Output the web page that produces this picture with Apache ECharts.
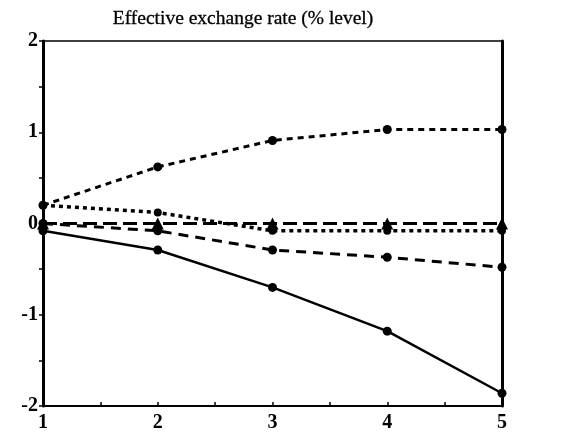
<!DOCTYPE html>
<html>
<head>
<meta charset="utf-8">
<script src="https://cdn.jsdelivr.net/npm/echarts@6/dist/echarts.min.js"></script>
<style>
  html, body { margin: 0; padding: 0; background: #fff; }
  #chart { width: 582px; height: 437px; }
</style>
</head>
<body>
<div id="chart"></div>
<script>
// Horizon (years)
const periods = [1, 2, 3, 4, 5];

// Effective exchange rate responses, % level
const solidSeries   = [-0.08, -0.29, -0.70, -1.18, -1.86];
const shortDashed   = [0.20, 0.62, 0.91, 1.03, 1.03];
const mediumDashed  = [0.00, -0.08, -0.29, -0.37, -0.48];
const squareDotted  = [0.20, 0.12, -0.08, -0.08, -0.08];
const longDashed    = [0.00, 0.00, 0.00, 0.00, 0.00];

const yTicks = [-2, -1, 0, 1, 2];
const xTicks = [1, 2, 3, 4, 5];

const pairs = vals => periods.map((p, i) => [p, vals[i]]);

const chart = echarts.init(document.getElementById('chart'), null, { renderer: 'canvas' });

const serif = '"Liberation Serif", "DejaVu Serif", serif';

function line(name, vals, type, width, symbol, size, z) {
  return {
    name, type: 'line', data: pairs(vals), z: z || 2,
    symbol, symbolSize: size, showSymbol: true,
    itemStyle: { color: '#000' },
    lineStyle: { color: '#000', width, type },
    animation: false
  };
}

chart.setOption({
  backgroundColor: '#fff',
  title: {
    text: 'Effective exchange rate (% level)',
    left: 238, top: 4, textAlign: 'center',
    textStyle: { fontFamily: serif, fontSize: 19.5, fontWeight: 'normal', color: '#000',
                 textBorderColor: '#000', textBorderWidth: 0.3 }
  },
  grid: { left: 43, right: 80, top: 41, bottom: 31, containLabel: false },
  xAxis: [{
    type: 'value', min: 1, max: 5, interval: 0.5,
    axisLine: { show: true, onZero: false, lineStyle: { color: '#000', width: 2 } },
    axisTick: { inside: true, length: 4, lineStyle: { color: '#000', width: 1.5 } },
    splitLine: { show: false },
    axisLabel: {
      margin: 7, color: '#000', fontFamily: serif, fontSize: 20, fontWeight: 'bold',
      formatter: v => (xTicks.indexOf(v) >= 0 ? String(v) : '')
    }
  }, {
    type: 'value', min: 1, max: 5, position: 'top',
    axisLine: { show: true, onZero: false, lineStyle: { color: '#000', width: 1.5 } },
    axisTick: { show: false }, axisLabel: { show: false }, splitLine: { show: false }
  }],
  yAxis: [{
    type: 'value', min: -2, max: 2, interval: 0.5,
    axisLine: { show: true, onZero: false, lineStyle: { color: '#000', width: 3 } },
    axisTick: { show: true, length: 4, lineStyle: { color: '#000', width: 1.5 } },
    splitLine: { show: false },
    axisLabel: {
      margin: 5, color: '#000', fontFamily: serif, fontSize: 20, fontWeight: 'bold',
      formatter: v => (yTicks.indexOf(v) >= 0 ? String(v) : '')
    }
  }, {
    type: 'value', min: -2, max: 2, position: 'right',
    axisLine: { show: true, onZero: false, lineStyle: { color: '#000', width: 3 } },
    axisTick: { show: false }, axisLabel: { show: false }, splitLine: { show: false }
  }],
  series: [
    line('solid', solidSeries, 'solid', 2.5, 'circle', 9, 5),
    line('shortDashed', shortDashed, [6, 5], 3, 'circle', 9, 4),
    line('mediumDashed', mediumDashed, [10, 7], 3, 'circle', 9, 3),
    line('squareDotted', squareDotted, [4, 4], 3.5, 'circle', 8, 2),
    line('longDashed', longDashed, [14, 6], 3, 'triangle', 12, 3)
  ]
});
</script>
</body>
</html>
